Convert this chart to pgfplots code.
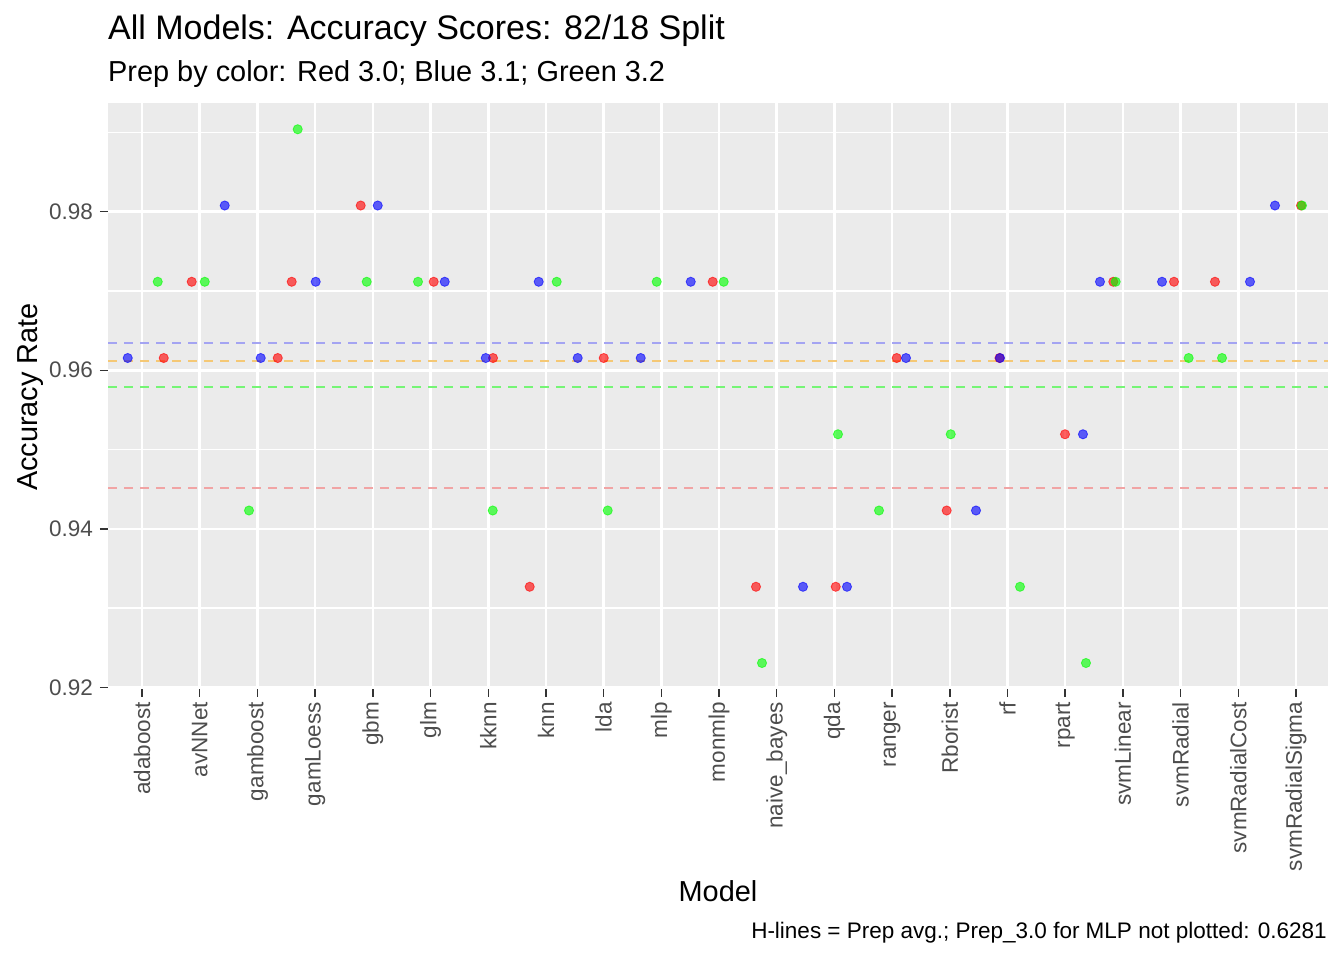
\documentclass[border=0pt]{standalone}
\usepackage{fontspec}
\setmainfont{Liberation Sans}
\usepackage{pgfplots}
\pgfplotsset{compat=1.18}
\definecolor{panelbg}{HTML}{EBEBEB}
\definecolor{tickgray}{HTML}{333333}
\definecolor{labgray}{HTML}{4D4D4D}
\definecolor{lred}{RGB}{241,164,164}
\definecolor{lblue}{RGB}{164,164,242}
\definecolor{lorange}{RGB}{245,200,117}
\definecolor{lgreen}{RGB}{117,245,117}
\definecolor{pred}{RGB}{255,0,0}
\definecolor{pblue}{RGB}{0,0,255}
\definecolor{pgreen}{RGB}{0,255,0}

\pgfplotstableread{
x y
1.376 0.961538
1.861 0.971154
3.352 0.961538
3.594 0.971154
4.790 0.980769
6.055 0.971154
7.083 0.961538
7.719 0.932692
9.002 0.961538
10.891 0.971154
11.641 0.932692
13.023 0.932692
14.080 0.961538
14.946 0.942308
15.861 0.961538
16.997 0.951923
17.834 0.971154
18.886 0.971154
19.596 0.971154
21.087 0.980769
}\redtab

\pgfplotstableread{
x y
0.752 0.961538
2.433 0.980769
3.057 0.961538
4.010 0.971154
5.085 0.980769
6.246 0.971154
6.957 0.961538
7.875 0.971154
8.551 0.961538
9.643 0.961538
10.510 0.971154
12.456 0.932692
13.218 0.932692
14.241 0.961538
15.454 0.942308
15.870 0.961538
17.308 0.951923
17.603 0.971154
18.678 0.971154
20.203 0.971154
20.636 0.980769
}\bluetab

\pgfplotstableread{
x y
1.272 0.971154
2.087 0.971154
2.854 0.942308
3.698 0.990385
4.894 0.971154
5.783 0.971154
7.078 0.942308
8.187 0.971154
9.071 0.942308
9.920 0.971154
11.081 0.971154
11.745 0.923077
13.062 0.951923
13.773 0.942308
15.016 0.951923
16.217 0.932692
17.360 0.923077
17.875 0.971154
19.140 0.961538
19.718 0.961538
21.104 0.980769
}\greentab

\begin{document}
\begin{tikzpicture}
\path[use as bounding box] (0,0) rectangle (1344pt,960pt);
\begin{axis}[
 at={(108pt,271pt)}, anchor=south west,
 scale only axis, width=1220pt, height=586pt,
 xmin=0.41, xmax=21.555, ymin=0.9198, ymax=0.9937,
 axis background/.style={fill=panelbg},
 axis line style={draw=none},
 xtick={1,...,21},
 xticklabels={adaboost,avNNet,gamboost,gamLoess,gbm,glm,kknn,knn,lda,mlp,monmlp,naive\_bayes,qda,ranger,Rborist,rf,rpart,svmLinear,svmRadial,svmRadialCost,svmRadialSigma},
 ytick={0.92,0.94,0.96,0.98},
 minor ytick={0.93,0.95,0.97,0.99},
 grid=both,
 major grid style={white, line width=2.6pt},
 minor grid style={white, line width=1.3pt},
 tick pos=left, tick align=outside,
 major tick length=8pt, minor tick length=0pt,
 tick style={color=tickgray, line width=1.4pt},
 scaled y ticks=false,
 /pgf/number format/assume math mode=true,
 ticklabel style={font=\fontsize{22.5}{27}\selectfont, text=labgray},
 xticklabel style={rotate=90, anchor=east, inner sep=0pt},
 xticklabel shift=5pt,
 yticklabel shift=7pt,
 yticklabel style={anchor=east, inner sep=0pt, /pgf/number format/fixed, /pgf/number format/fixed zerofill, /pgf/number format/precision=2},
 clip=false,
]
\addplot[lred, line width=2pt, dash pattern=on 9pt off 7pt] coordinates {(0.41,0.9452) (21.555,0.9452)};
\addplot[lblue, line width=2pt, dash pattern=on 9pt off 7pt] coordinates {(0.41,0.9634) (21.555,0.9634)};
\addplot[lorange, line width=2pt, dash pattern=on 9pt off 7pt] coordinates {(0.41,0.9611) (21.555,0.9611)};
\addplot[lgreen, line width=2pt, dash pattern=on 9pt off 7pt] coordinates {(0.41,0.9579) (21.555,0.9579)};
\addplot[only marks, mark=*, mark size=4.6pt, mark options={draw=pred, fill=pred, fill opacity=0.62, draw opacity=0.62, line width=0.8pt}] table[x=x,y=y] {\redtab};
\addplot[only marks, mark=*, mark size=4.6pt, mark options={draw=pblue, fill=pblue, fill opacity=0.62, draw opacity=0.62, line width=0.8pt}] table[x=x,y=y] {\bluetab};
\addplot[only marks, mark=*, mark size=4.6pt, mark options={draw=pgreen, fill=pgreen, fill opacity=0.62, draw opacity=0.62, line width=0.8pt}] table[x=x,y=y] {\greentab};
\end{axis}
\node[anchor=base west, inner sep=0pt, font=\fontsize{34}{40}\selectfont] at (108pt,920pt) {All Models: Accuracy Scores: 82/18 Split};
\node[anchor=base west, inner sep=0pt, font=\fontsize{28.9}{34}\selectfont] at (108pt,878pt) {Prep by color: Red 3.0; Blue 3.1; Green 3.2};
\node[anchor=base, inner sep=0pt, font=\fontsize{28.9}{34}\selectfont] at (718pt,58pt) {Model};
\node[anchor=base, inner sep=0pt, rotate=90, font=\fontsize{28.9}{34}\selectfont] at (38pt,563pt) {Accuracy Rate};
\node[anchor=base east, inner sep=0pt, font=\fontsize{22.5}{27}\selectfont] at (1327pt,21pt) {H-lines = Prep avg.; Prep\_3.0 for MLP not plotted: 0.6281};
\end{tikzpicture}
\end{document}
